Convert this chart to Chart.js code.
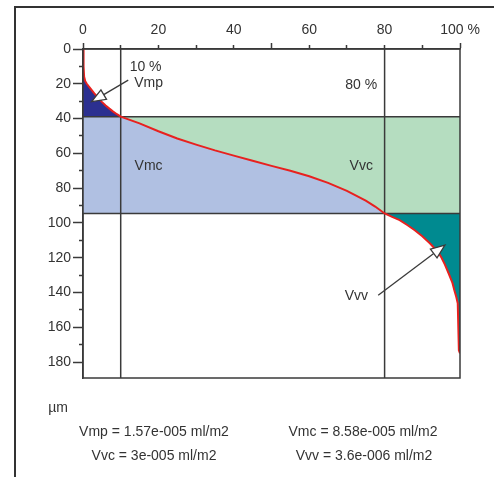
<!DOCTYPE html>
<html><head><meta charset="utf-8">
<script src="https://cdn.jsdelivr.net/npm/chart.js@4"></script>
<style>
html,body{margin:0;padding:0;background:#fff;}
#wrap{position:relative;width:494px;height:477px;overflow:hidden;font-family:"Liberation Sans",Arial,sans-serif;color:#333;}
#frame{position:absolute;left:14px;top:6px;width:520px;height:520px;border-left:2px solid #333;border-top:2px solid #333;}
canvas{position:absolute;left:0;top:0;}
.t{position:absolute;font-size:14px;white-space:nowrap;transform:translate(-50%,-50%);}
</style></head>
<body>
<div id="wrap">
<div id="frame"></div>
<canvas id="c" width="494" height="477"></canvas>
<div class="t" id="unit" style="left:58px;top:407px;"></div>
<div class="t" id="v0" style="left:154px;top:431px;"></div>
<div class="t" id="v1" style="left:363px;top:431px;"></div>
<div class="t" id="v2" style="left:154px;top:455px;"></div>
<div class="t" id="v3" style="left:364px;top:455px;"></div>
</div>
<script>
// ---- data ----
const bearingPct = [0, 0.15, 0.3, 0.6, 1, 2, 3, 4, 5, 6, 7, 8, 9, 10, 15, 20, 25, 30, 35, 40, 45, 50, 55, 60, 65, 70, 75, 77.5, 80, 82, 84, 86, 88, 90, 92, 94, 95, 96, 97, 98, 98.5, 99, 99.4, 99.7, 100];
const depthUm    = [0, 10, 16, 18.5, 20.0, 22.8, 25.5, 28.0, 30.4, 32.5, 34.3, 36.0, 37.5, 38.9, 42.8, 47.3, 51.5, 55.0, 58.3, 61.3, 64.3, 67.2, 70.0, 73.2, 77.0, 81.6, 87.2, 90.6, 94.6, 96.5, 98.4, 101.2, 104.2, 107.7, 111.7, 116.3, 119.6, 124.0, 129.1, 134.5, 138.7, 142.5, 146.2, 173.3, 175];
const mrLevels = [10, 80];            // material ratio levels (%)
const heightLevels = [38.9, 94.6];    // corresponding heights (µm)
const xLabelValues = [0, 20, 40, 60, 80, 100];
const xLabelTexts  = ['0', '20', '40', '60', '80', '100 %'];
const yLabelValues = [0, 20, 40, 60, 80, 100, 120, 140, 160, 180];
const yMax = 189.2;
const volumeNames  = ['Vmp', 'Vmc', 'Vvc', 'Vvv'];
const volumeValues = ['1.57e-005', '8.58e-005', '3e-005', '3.6e-006'];
const volumeUnit = 'ml/m2';
const depthUnit = 'µm';
// annotation texts and anchors (data coordinates)
const noteTexts = ['10 %', 'Vmp', '80 %', 'Vmc', 'Vvc', 'Vvv'];
const noteX = [16.6, 17.4, 73.8, 17.4, 73.8, 72.5];
const noteY = [10.6, 19.5, 21.0, 67.4, 67.4, 142.2];
const arrowFrom = [[12.0, 17.9], [78.3, 141.6]];
const arrowTo   = [[2.3, 30.3], [96.0, 112.8]];

// ---- derived tables ----
const curve = bearingPct.map((x, i) => ({x, y: depthUm[i]}));
const clamped = curve.map(p => ({x: p.x, y: Math.min(Math.max(p.y, heightLevels[0]), heightLevels[1])}));
const peakPart = curve.filter(p => p.x <= mrLevels[0]);
const valleyPart = curve.filter(p => p.x >= mrLevels[1]);

document.getElementById('unit').textContent = depthUnit;
volumeNames.forEach((n, i) => {
  document.getElementById('v' + i).textContent = n + ' = ' + volumeValues[i] + ' ' + volumeUnit;
});

const LINE = '#3a3a3a';
const TXT = '#333';
const base = {pointRadius: 0, pointHoverRadius: 0, tension: 0};

const datasets = [
  Object.assign({}, base, {label: 'curve', data: curve, borderColor: '#e8211f', borderWidth: 2, fill: false}),
  Object.assign({}, base, {label: 'v1', data: [{x: mrLevels[0], y: 0}, {x: mrLevels[0], y: yMax}], borderColor: LINE, borderWidth: 1.5, fill: false}),
  Object.assign({}, base, {label: 'v2', data: [{x: mrLevels[1], y: 0}, {x: mrLevels[1], y: yMax}], borderColor: LINE, borderWidth: 1.5, fill: false}),
  Object.assign({}, base, {label: 'h1', data: [{x: 0, y: heightLevels[0]}, {x: 100, y: heightLevels[0]}], borderColor: LINE, borderWidth: 1.5, fill: false}),
  Object.assign({}, base, {label: 'h2', data: [{x: 0, y: heightLevels[1]}, {x: 100, y: heightLevels[1]}], borderColor: LINE, borderWidth: 1.5, fill: false}),
  Object.assign({}, base, {label: 'Vmp', data: peakPart, borderColor: 'transparent', borderWidth: 1, backgroundColor: '#2c3090', fill: {value: heightLevels[0]}}),
  Object.assign({}, base, {label: 'Vvv', data: valleyPart, borderColor: 'transparent', borderWidth: 1, backgroundColor: '#008a90', fill: {value: heightLevels[1]}}),
  Object.assign({}, base, {label: 'Vvc', data: clamped, borderColor: 'transparent', borderWidth: 1, backgroundColor: '#b5ddc0', fill: {value: heightLevels[0]}}),
  Object.assign({}, base, {label: 'Vmc', data: clamped, borderColor: 'transparent', borderWidth: 1, backgroundColor: '#b0c0e2', fill: {value: heightLevels[1]}})
];

const framePlugin = {
  id: 'frame',
  afterDatasetsDraw(chart) {
    const {ctx, chartArea: a, scales: {x, y}} = chart;
    ctx.save();
    ctx.strokeStyle = LINE;
    ctx.lineWidth = 1.5;
    ctx.strokeRect(a.left, a.top, a.right - a.left, a.bottom - a.top);
    // notes
    ctx.fillStyle = TXT;
    ctx.font = '14px "Liberation Sans", Arial, sans-serif';
    ctx.textAlign = 'center';
    ctx.textBaseline = 'middle';
    noteTexts.forEach((t, i) => {
      ctx.fillText(t, x.getPixelForValue(noteX[i]), y.getPixelForValue(noteY[i]));
    });
    // arrows
    arrowFrom.forEach((f, i) => {
      const x1 = x.getPixelForValue(f[0]), y1 = y.getPixelForValue(f[1]);
      const x2 = x.getPixelForValue(arrowTo[i][0]), y2 = y.getPixelForValue(arrowTo[i][1]);
      const ang = Math.atan2(y2 - y1, x2 - x1);
      const L = 14, W = 5.5;
      const bx = x2 - L * Math.cos(ang), by = y2 - L * Math.sin(ang);
      ctx.strokeStyle = LINE;
      ctx.lineWidth = 1.3;
      ctx.beginPath(); ctx.moveTo(x1, y1); ctx.lineTo(bx, by); ctx.stroke();
      ctx.beginPath();
      ctx.moveTo(x2, y2);
      ctx.lineTo(bx + W * Math.sin(ang), by - W * Math.cos(ang));
      ctx.lineTo(bx - W * Math.sin(ang), by + W * Math.cos(ang));
      ctx.closePath();
      ctx.fillStyle = '#fff';
      ctx.fill();
      ctx.stroke();
    });
    ctx.restore();
  }
};

new Chart(document.getElementById('c'), {
  type: 'line',
  data: {datasets},
  options: {
    responsive: false,
    animation: false,
    events: [],
    layout: {padding: {left: 0, top: 0, right: 34, bottom: 99}},
    plugins: {legend: {display: false}, tooltip: {enabled: false}},
    scales: {
      x: {
        type: 'linear', position: 'top', min: 0, max: 100,
        ticks: {
          stepSize: 10, autoSkip: false, maxRotation: 0, padding: 4,
          color: TXT, font: {size: 14, family: '"Liberation Sans", Arial, sans-serif'},
          callback: v => { const k = xLabelValues.indexOf(v); return k >= 0 ? xLabelTexts[k] : ''; }
        },
        grid: {
          drawOnChartArea: false, tickLength: 6, tickColor: LINE, tickWidth: 1.5,
          tickBorderDash: c => (c.tick && c.tick.value % 50 !== 0) ? [0, 2, 4, 100] : []
        },
        border: {display: true, color: LINE, width: 1.5},
        afterFit: s => { s.height = 49; }
      },
      y: {
        type: 'linear', position: 'left', reverse: true, min: 0, max: yMax,
        ticks: {
          stepSize: 10, includeBounds: false, autoSkip: false, padding: 2,
          color: TXT, font: {size: 14, family: '"Liberation Sans", Arial, sans-serif'},
          callback: v => yLabelValues.indexOf(v) >= 0 ? String(v) : ''
        },
        grid: {
          drawOnChartArea: false, tickLength: 10, tickColor: LINE, tickWidth: 1.5,
          tickBorderDash: c => (c.tick && c.tick.value % 20 !== 0) ? [0, 6, 4, 100] : []
        },
        border: {display: true, color: LINE, width: 1.5},
        afterFit: s => { s.width = 83; }
      }
    }
  },
  plugins: [framePlugin]
});
</script>
</body></html>
